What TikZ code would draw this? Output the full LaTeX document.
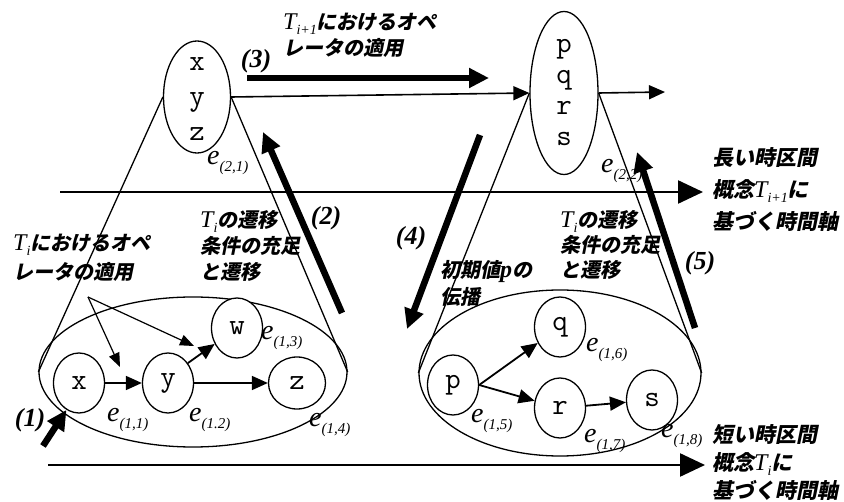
\documentclass[tikz,border=0pt]{standalone}
\usepackage{fontspec}
\setmainfont{Liberation Serif}
\newfontfamily\jp[FakeSlant=0.2]{Noto Sans CJK JP}
\usetikzlibrary{shapes.geometric,arrows.meta}
\newcommand\Ti{{\rmfamily\mdseries\itshape\fontsize{24}{24}\selectfont T\raisebox{-5pt}{\fontsize{14}{14}\selectfont i}}}
\newcommand\Tip{{\rmfamily\mdseries\itshape\fontsize{24}{24}\selectfont T\raisebox{-5pt}{\fontsize{14}{14}\selectfont i+1}}}
\newcommand\elab[1]{{\itshape\fontsize{28}{28}\selectfont e\raisebox{-7pt}{\fontsize{15}{15}\selectfont (#1)}}}
\begin{document}
\begin{tikzpicture}[x=1pt,y=-1pt,
  cone/.style={line width=1.3pt},
  ax/.style={line width=2.4pt,-{Triangle[length=25pt,width=23pt]}},
  big/.style={line width=6.5pt,-{Triangle[length=20pt,width=19pt]}},
  sm/.style={line width=1.8pt,-{Triangle[length=16pt,width=14pt]}},
  lab/.style={line width=1.2pt,-{Triangle[length=14pt,width=11pt]}},
  st/.style={draw,ellipse,line width=1.3pt,fill=white,minimum width=51pt,minimum height=60pt,inner sep=0pt,font=\ttfamily\fontsize{30}{30}\selectfont},
  cont/.style={draw,ellipse,line width=1.3pt,inner sep=0pt},
  jl/.style={align=left,inner sep=0pt,anchor=west,font=\jp\bfseries\fontsize{20}{27}\selectfont},
  num/.style={font=\bfseries\itshape\fontsize{26}{26}\selectfont,inner sep=0pt},
  el/.style={inner sep=0pt,anchor=base west}
]
\useasboundingbox (0,0) rectangle (844,502);

% containers
\node[cont,minimum width=308pt,minimum height=150pt] (L) at (193,372) {};
\node[cont,minimum width=282pt,minimum height=166pt] (R) at (560,373) {};
\node[cont,minimum width=67pt,minimum height=112pt,fill=white] (XYZ) at (197,97) {};
\node[font=\ttfamily\fontsize{30}{35}\selectfont,align=center,inner sep=0pt] (xyzt) at (197,99) {x\\y\\z};
\node[cont,minimum width=68pt,minimum height=163pt,fill=white] (PQRS) at (564,93) {};
\node[font=\ttfamily\fontsize{30}{31}\selectfont,align=center,inner sep=0pt] (pqrst) at (PQRS) {p\\q\\r\\s};

% cone lines
\draw[cone] (XYZ.west) -- (L.west);
\draw[cone] (XYZ.east) -- (L.east);
\draw[cone] (PQRS.west) -- (R.west);
\draw[cone] (PQRS.east) -- (R.east);

% axes
\coordinate (h1s) at (60,192);
\coordinate (h1e) at (703,192);
\coordinate (h2s) at (48,465);
\coordinate (h2e) at (705,465);
\draw[ax] (h1s) -- (h1e);
\draw[ax] (h2s) -- (h2e);

% link arrows
\coordinate (out) at (665,92);
\draw[sm,line width=1.6pt] (XYZ.east) -- (PQRS.west);
\draw[sm,line width=1.6pt] (PQRS.east) -- (out);

% state nodes
\node[st] (x) at (79,383) {x};
\node[st] (y) at (168,383) {y};
\node[st] (w) at (237,328) {w};
\node[st,minimum width=57pt,minimum height=52pt] (z) at (297,383) {z};
\node[st] (p) at (453,385) {p};
\node[st] (q) at (560,327) {q};
\node[st] (r) at (560,408) {r};
\node[st] (s) at (652,400) {s};

\draw[sm] (x) -- (y);
\draw[sm] (y) -- (z);
\draw[sm] (y.45) -- (w);
\draw[sm] (p.east) -- (q);
\draw[sm] (p.east) -- (r);
\draw[sm] (r) -- (s);

% label pointer arrows
\coordinate (lp) at (88,297);
\coordinate (t1) at (120,367);
\coordinate (t2) at (194,346);
\draw[lab] (lp) -- (t1);
\draw[lab] (lp) -- (t2);

% thick arrows
\coordinate (c1) at (43,446);
\coordinate (c2s) at (342,313);
\coordinate (c2e) at (263,132);
\coordinate (c3s) at (247,78);
\coordinate (c3e) at (489,78);
\coordinate (c4s) at (480,135);
\coordinate (c4e) at (407,329);
\coordinate (c5s) at (695,328);
\coordinate (c5e) at (637,152);
\draw[big] (c1) -- (x.245);
\draw[big] (c2s) -- (c2e);
\draw[big] (c3s) -- (c3e);
\draw[big] (c4s) -- (c4e);
\draw[big] (c5s) -- (c5e);

% numbers
\node[num] (n1) at (30,420) {(1)};
\node[num] (n2) at (326,218) {(2)};
\node[num] (n3) at (256,61) {(3)};
\node[num] (n4) at (411,238) {(4)};
\node[num] (n5) at (700,263) {(5)};

% e labels
\node[el] (e11) at (107,422) {\elab{1,1}};
\node[el] (e12) at (189,422) {\elab{1.2}};
\node[el] (e13) at (261,340) {\elab{1,3}};
\node[el] (e14) at (309,427) {\elab{1,4}};
\node[el] (e21) at (207,165) {\elab{2,1}};
\node[el] (e22) at (601,173) {\elab{2,2}};
\node[el] (e15) at (471,423) {\elab{1,5}};
\node[el] (e16) at (586,352) {\elab{1,6}};
\node[el] (e17) at (584,443) {\elab{1,7}};
\node[el] (e18) at (661,438) {\elab{1,8}};

% Japanese labels
\node[jl,font=\jp\bfseries\fontsize{20}{26}\selectfont] (L1) at (283,35) {\Tip におけるオペ\\レータの適用};
\node[jl,font=\jp\bfseries\fontsize{20}{29}\selectfont] (L2) at (13,258) {\Ti におけるオペ\\レータの適用};
\node[jl,font=\jp\bfseries\fontsize{20}{26}\selectfont] (L3) at (200,246) {\Ti の遷移\\条件の充足\\と遷移};
\node[jl] (L4) at (440,283) {初期値{\rmfamily\bfseries\itshape\fontsize{24}{24}\selectfont p}の\\伝播};
\node[jl,font=\jp\bfseries\fontsize{20}{25}\selectfont] (L5) at (560,245) {\Ti の遷移\\条件の充足\\と遷移};
\node[jl,font=\jp\bfseries\fontsize{21}{32}\selectfont] (L6) at (712,190) {長い時区間\\概念\Tip に\\基づく時間軸};
\node[jl,font=\jp\bfseries\fontsize{21}{28}\selectfont] (L7) at (712,463) {短い時区間\\概念\Ti に\\基づく時間軸};
\end{tikzpicture}
\end{document}
